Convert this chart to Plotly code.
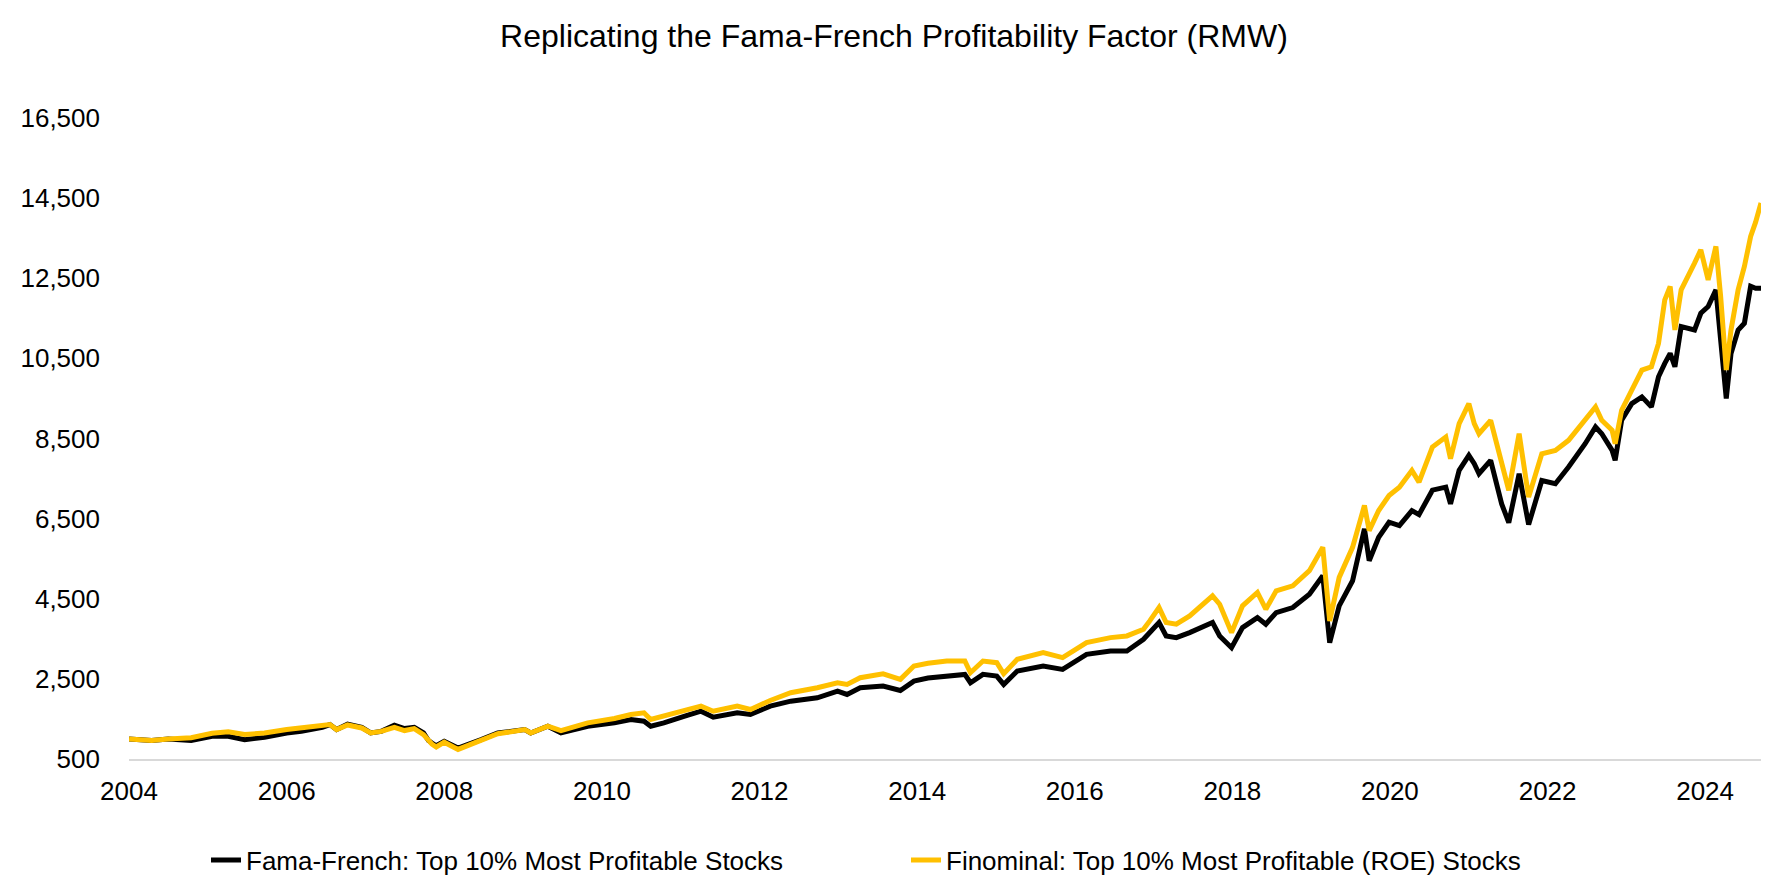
import plotly.graph_objects as go

# Growth of 1,000
dates = [
    "2004-01-01", "2004-04-15", "2004-07-01", "2004-10-15", "2005-01-20", "2005-04-05",
    "2005-06-20", "2005-09-20", "2006-01-01", "2006-03-10", "2006-06-15", "2006-07-20",
    "2006-08-20", "2006-10-10", "2006-12-15", "2007-01-25", "2007-03-15", "2007-05-15",
    "2007-07-01", "2007-08-15", "2007-09-27", "2007-10-20", "2007-11-05", "2007-11-25",
    "2008-01-01", "2008-03-05", "2008-06-20", "2008-09-05", "2009-01-08", "2009-02-05",
    "2009-04-25", "2009-06-25", "2009-10-27", "2010-02-28", "2010-05-15", "2010-07-15",
    "2010-08-15", "2010-10-15", "2011-01-20", "2011-04-05", "2011-06-01", "2011-09-20",
    "2011-11-20", "2012-02-20", "2012-05-25", "2012-08-07", "2012-09-25", "2012-12-28",
    "2013-02-10", "2013-04-12", "2013-07-27", "2013-10-15", "2013-12-17", "2014-02-20",
    "2014-05-18", "2014-08-10", "2014-09-05", "2014-11-02", "2015-01-05", "2015-02-06",
    "2015-04-10", "2015-08-08", "2015-11-06", "2016-02-25", "2016-06-15", "2016-08-30",
    "2016-11-15", "2016-12-14", "2017-01-26", "2017-02-28", "2017-04-16", "2017-06-17",
    "2017-08-18", "2017-10-01", "2017-11-03", "2017-12-28", "2018-02-17", "2018-04-27",
    "2018-06-05", "2018-07-23", "2018-10-08", "2018-12-24", "2019-02-24", "2019-03-28",
    "2019-05-11", "2019-07-12", "2019-09-05", "2019-09-27", "2019-11-10", "2019-12-28",
    "2020-02-14", "2020-04-12", "2020-05-15", "2020-07-16", "2020-09-16", "2020-10-08",
    "2020-11-17", "2021-01-01", "2021-01-26", "2021-02-17", "2021-04-12", "2021-06-02",
    "2021-07-05", "2021-08-22", "2021-10-05", "2021-12-05", "2022-02-06", "2022-04-08",
    "2022-06-24", "2022-08-11", "2022-09-09", "2022-10-27", "2022-11-10", "2022-12-10",
    "2023-01-26", "2023-03-14", "2023-04-27", "2023-05-30", "2023-06-28", "2023-07-23",
    "2023-08-14", "2023-09-12", "2023-11-13", "2023-12-12", "2024-01-15", "2024-02-20",
    "2024-03-13", "2024-04-08", "2024-04-30", "2024-06-02", "2024-07-01", "2024-07-30",
    "2024-08-22", "2024-09-16",
]

fama_french = [
    1000, 960, 1000, 960, 1068, 1068,
    983, 1040, 1150, 1190, 1290, 1360,
    1235, 1370, 1290, 1150, 1190, 1345,
    1260, 1290, 1150, 960, 900, 830,
    943, 775, 985, 1150, 1234, 1150,
    1318, 1150, 1318, 1401, 1485, 1443,
    1318, 1401, 1568, 1693, 1543, 1652,
    1610, 1819, 1944, 1986, 2028, 2195,
    2111, 2278, 2320, 2211, 2445, 2520,
    2570, 2612, 2403, 2612, 2570, 2361,
    2695, 2820, 2737, 3112, 3196, 3196,
    3488, 3655, 3906, 3572, 3530, 3655,
    3822, 3906, 3572, 3279, 3780, 4030,
    3864, 4155, 4281, 4615, 5075, 3404,
    4323, 4949, 6243, 5450, 6034, 6410,
    6326, 6700, 6600, 7210, 7286, 6868,
    7704, 8080, 7871, 7620, 7955, 6868,
    6400, 7620, 6350, 7453, 7370, 7787,
    8370, 8788, 8620, 8203, 7955, 8955,
    9371, 9539, 9289, 10040, 10374, 10624,
    10291, 11292, 11209, 11626, 11793, 12210,
    10958, 9497, 10624, 11209, 11376, 12300,
    12250, 12250,
]

finominal = [
    1000, 960, 1000, 1030, 1143, 1180,
    1110, 1150, 1235, 1275, 1345, 1360,
    1235, 1350, 1275, 1150, 1190, 1290,
    1210, 1260, 1110, 960, 870, 800,
    920, 740, 970, 1130, 1234, 1150,
    1318, 1209, 1401, 1510, 1610, 1652,
    1485, 1568, 1693, 1819, 1693, 1819,
    1735, 1960, 2153, 2211, 2278, 2403,
    2361, 2528, 2628, 2487, 2820, 2890,
    2946, 2946, 2654, 2946, 2904, 2629,
    2987, 3154, 3029, 3405, 3530, 3572,
    3739, 3947, 4281, 3906, 3864, 4072,
    4364, 4573, 4364, 3655, 4323, 4657,
    4239, 4698, 4824, 5200, 5784, 3947,
    5033, 5784, 6827, 6201, 6702, 7078,
    7286, 7704, 7411, 8287, 8538, 7995,
    8870, 9371, 8870, 8620, 8955, 7871,
    7204, 8620, 7036, 8120, 8203, 8454,
    8955, 9289, 8955, 8704, 8370, 9205,
    9707, 10208, 10291, 10874, 11960, 12294,
    11209, 12210, 12877, 13211, 12461, 13295,
    12043, 10208, 11209, 12210, 12794, 13545,
    13900, 14380,
]

y_ticks = list(range(500, 16501, 2000))

fig = go.Figure()
fig.add_trace(go.Scatter(
    x=dates, y=fama_french, mode="lines",
    name="Fama-French: Top 10% Most Profitable Stocks",
    line=dict(color="#000000", width=5),
))
fig.add_trace(go.Scatter(
    x=dates, y=finominal, mode="lines",
    name="Finominal: Top 10% Most Profitable (ROE) Stocks",
    line=dict(color="#FFC000", width=5),
))

fig.update_layout(
    width=1772, height=885,
    paper_bgcolor="white", plot_bgcolor="white",
    font=dict(family="Liberation Sans, Arial, sans-serif", size=26, color="#000000"),
    title=dict(
        text="Replicating the Fama-French Profitability Factor (RMW)",
        font=dict(size=32), x=0.5, xanchor="center", xref="container",
        y=1 - 28 / 885, yanchor="middle", yref="container",
    ),
    margin=dict(l=117, r=19, t=110, b=134),
    showlegend=True,
    legend=dict(
        orientation="h", xref="container", yref="container",
        x=198 / 1772, xanchor="left", y=1 - 852 / 885, yanchor="middle",
        font=dict(size=26), entrywidth=655, entrywidthmode="pixels",
    ),
)
fig.update_xaxes(
    type="date", range=["2004-01-01", "2024-09-16"],
    tick0="2004-01-01", dtick="M24", tickformat="%Y",
    showgrid=False, zeroline=False, showline=True,
    linecolor="#d9d9d9", linewidth=2, ticks="", ticklabelstandoff=8,
)
fig.update_yaxes(
    range=[500, 16500], tickvals=y_ticks, tickformat=",",
    showgrid=False, zeroline=False, showline=False,
    ticks="", ticklabelstandoff=28,
)

fig.write_html("out.html")
